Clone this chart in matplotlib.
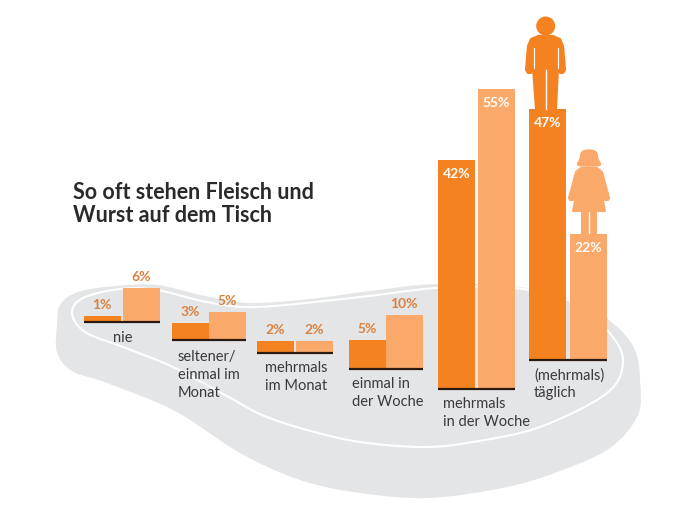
"""
plot.py - Fleisch und Wurst chart: paired bars standing on a foot shaped slab.
"""
import numpy as np
import matplotlib
matplotlib.use("Agg")
import matplotlib.pyplot as plt
from matplotlib.path import Path
from matplotlib.patches import PathPatch, Circle, Rectangle

# Data
categories = ["nie", "seltener/\neinmal im\nMonat", "mehrmals\nim Monat",
              "einmal in\nder Woche", "mehrmals\nin der Woche", "(mehrmals)\ntäglich"]
men_labels = ["1%", "3%", "2%", "5%", "42%", "47%"]
women_labels = ["6%", "5%", "2%", "10%", "55%", "22%"]
# bar heights as drawn in the picture, in percent
men_values = [1.1, 3.1, 2.2, 5.3, 42.0, 46.1]
women_values = [6.2, 5.1, 2.2, 10.0, 55.0, 23.1]

# Layout, in pixels of the 678x522 canvas
PX_PER_PCT = 5.45
BAR_W = 36.5
group_left = [84, 172, 257, 349, 438, 529]
women_gap = [39, 37, 39, 37, 40, 41]
baselines = [322, 340, 353, 369, 389, 360]
label_xy = [(113, 331), (178, 350), (265, 361), (352, 377), (443, 397), (534, 368)]

MEN = "#F58220"
WOMEN = "#FBA96B"
LABEL = "#DB8140"
GREY = "#E4E5E6"
TEXT = "#3A3A3C"

# outlines of the slab
slab = [(57, 325), (60, 305), (78, 292), (115, 286), (157, 285), (205, 296), (250, 303), (310, 299),
        (370, 291), (437, 284), (520, 287), (580, 303), (615, 325), (635, 350), (640, 380),
        (638, 415), (610, 448), (560, 471), (507, 487), (430, 498), (360, 493), (300, 480),
        (240, 453), (175, 411), (107, 383), (72, 371), (57, 352)]
slab_line = [(72, 313), (83, 298), (120, 289), (157, 290), (207, 302), (257, 307), (360, 297),
             (437, 288), (515, 288), (573, 302), (607, 330), (623, 360), (607, 393), (540, 427),
             (473, 442), (423, 447), (360, 442), (307, 430), (262, 415), (225, 395), (173, 367),
             (123, 347), (85, 332)]

man_body = [(538, 36), (553, 36), (560, 39), (563, 46), (564, 57), (565, 70), (563, 73), (560, 73),
            (558, 68), (556, 109), (536, 109), (533, 68), (531, 73), (528, 73), (526, 70),
            (527, 57), (528, 46), (531, 39)]
woman_dress = [(581, 168), (597, 168), (602, 172), (609, 198), (608, 200), (605, 200), (600, 186),
               (605, 211), (573, 211), (578, 186), (573, 200), (570, 200), (569, 198), (576, 172)]
woman_hair = [(589, 150), (596, 152), (598, 159), (600, 165), (589, 166), (578, 165), (580, 159), (582, 152)]


def smooth_closed(points):
    # closed Catmull-Rom curve through the given points
    pts = np.array(points, dtype=float)
    prev_p = np.roll(pts, 1, axis=0)
    next_p = np.roll(pts, -1, axis=0)
    next2_p = np.roll(pts, -2, axis=0)
    verts = [pts[0]]
    codes = [Path.MOVETO]
    for a, b, c, d in zip(prev_p, pts, next_p, next2_p):
        verts += [b + (c - a) / 6, c - (d - b) / 6, c]
        codes += [Path.CURVE4, Path.CURVE4, Path.CURVE4]
    return Path(verts, codes)


fig = plt.figure(figsize=(6.78, 5.22), dpi=100)
ax = fig.add_axes([0, 0, 1, 1])
ax.set_xlim(0, 678)
ax.set_ylim(522, 0)
ax.axis("off")
plt.rcParams["font.family"] = ["Lato", "DejaVu Sans"]

ax.add_patch(PathPatch(smooth_closed(slab), fc=GREY, ec="none", zorder=1))
ax.add_patch(PathPatch(smooth_closed(slab_line), fc="none", ec="white", lw=1.5, zorder=2))

for i in range(len(categories)):
    x0 = group_left[i]
    x1 = x0 + women_gap[i]
    base = baselines[i]
    ax.bar(x0, -men_values[i] * PX_PER_PCT, BAR_W, bottom=base, align="edge", color=MEN, zorder=3)
    ax.bar(x1, -women_values[i] * PX_PER_PCT, BAR_W, bottom=base, align="edge", color=WOMEN, zorder=3)
    ax.plot([x0, x1 + BAR_W], [base, base], color="#2A1A10", lw=1.6, zorder=4, solid_capstyle="butt")

    # small bars carry the label on top, tall ones inside
    for x, val, lab in [(x0, men_values[i], men_labels[i]), (x1, women_values[i], women_labels[i])]:
        top = base - val * PX_PER_PCT
        if val > 20:
            ax.text(x + BAR_W / 2, top + 14, lab, color="white", fontsize=10, fontweight="bold",
                    ha="center", va="center", zorder=5)
        else:
            ax.text(x + BAR_W / 2, top - 11, lab, color=LABEL, fontsize=10, fontweight="bold",
                    ha="center", va="center", zorder=5)

    ax.text(label_xy[i][0], label_xy[i][1], categories[i], color=TEXT, fontsize=10.5,
            ha="left", va="top", linespacing=1.35, zorder=5)

# man
ax.add_patch(Circle((545.7, 26), 9.5, fc=MEN, ec="none", zorder=3))
ax.add_patch(PathPatch(Path(man_body + man_body[:1], closed=True), fc=MEN, ec=MEN, lw=1.5,
                       joinstyle="round", zorder=3))
ax.plot([545.7, 545.7], [70, 109], color="white", lw=1, zorder=4)
ax.plot([533.5, 533.5], [48, 68], color="white", lw=0.8, zorder=4)
ax.plot([557.5, 557.5], [48, 68], color="white", lw=0.8, zorder=4)

# woman
ax.add_patch(Circle((589, 158), 8, fc=WOMEN, ec="none", zorder=3))
ax.add_patch(PathPatch(smooth_closed(woman_hair), fc=WOMEN, ec=WOMEN, lw=1, zorder=3))
ax.add_patch(PathPatch(Path(woman_dress + woman_dress[:1], closed=True), fc=WOMEN, ec=WOMEN,
                       lw=1.5, joinstyle="round", zorder=3))
ax.add_patch(Rectangle((581, 211), 16, 23, fc=WOMEN, ec="none", zorder=3))
ax.plot([589, 589], [212, 233], color="white", lw=1, zorder=4)

ax.text(73, 204, "So oft stehen Fleisch und\nWurst auf dem Tisch", color="#2A2A2C", fontsize=15.5,
        fontweight="bold", ha="left", va="center", linespacing=1.15, zorder=5)

fig.savefig("out.png", dpi=100)
